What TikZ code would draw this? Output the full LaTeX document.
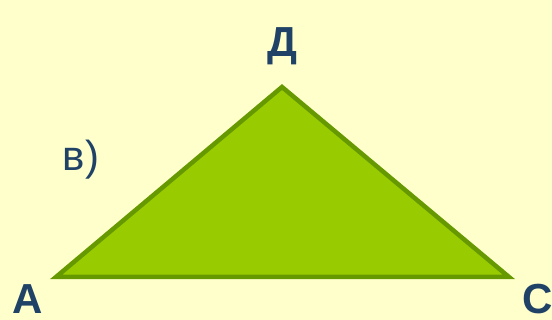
\documentclass[tikz,border=0pt]{standalone}
\usepackage{fontspec}
\setmainfont{Liberation Sans}
\definecolor{bgyellow}{HTML}{FFFFCC}
\definecolor{trifill}{HTML}{99CC00}
\definecolor{triedge}{HTML}{669900}
\definecolor{labelblue}{HTML}{1F4266}
\tikzset{
  vertexlabel/.style={text=labelblue, font=\fontsize{42}{42}\selectfont\bfseries, inner sep=0pt},
  partlabel/.style={text=labelblue, font=\fontsize{42}{42}\selectfont, inner sep=0pt}
}
\begin{document}
\begin{tikzpicture}[x=1pt,y=-1pt]
            \fill [bgyellow] (0,0) rectangle (552,320);
            \useasboundingbox (0,0) rectangle (552,320);

            % Draw the triangle
            \coordinate (A) at (56,277);
            \coordinate (D) at (282,87);
            \coordinate (C) at (509,277);
            \draw [triedge, line width=4.5pt, fill=trifill] (A) -- (D) -- (C) -- cycle;

            % Vertex labels
            \node [vertexlabel] (labA) at (28,299) {А};
            \node [vertexlabel] (labD) at (282,46) {Д};
            \node [vertexlabel] (labC) at (538,299) {С};

            % Part label
            \node [partlabel] (part) at (81,160) {в)};
        \end{tikzpicture}
\end{document}
